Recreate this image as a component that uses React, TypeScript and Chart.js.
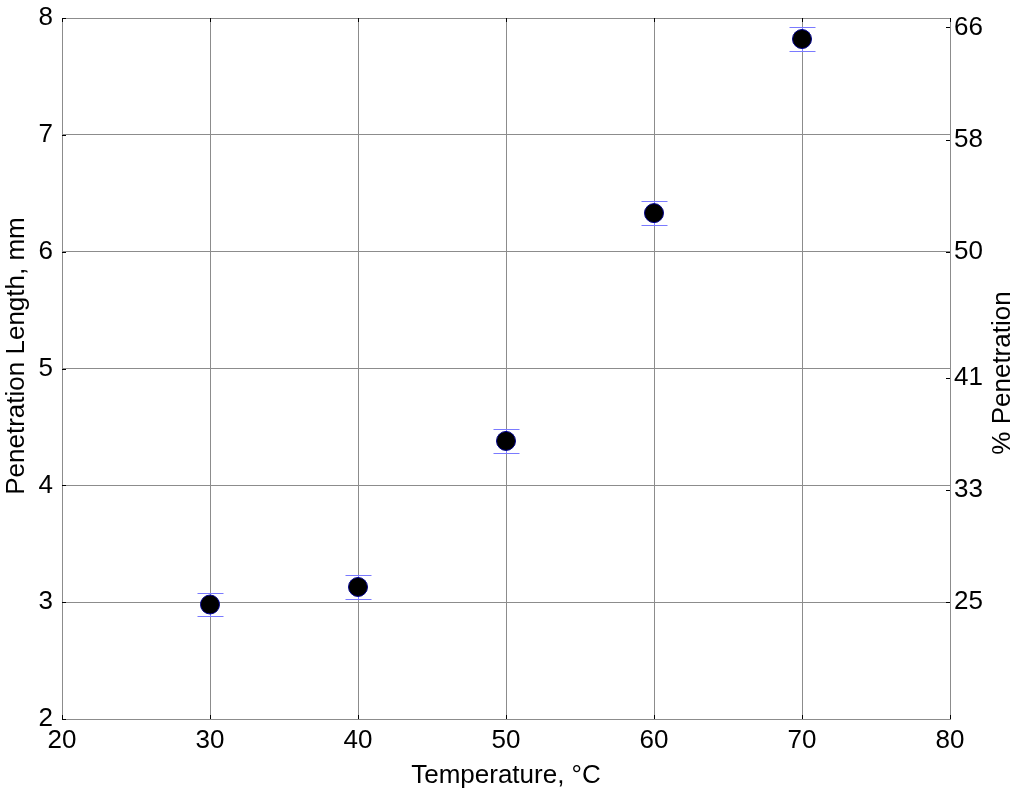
import React, { useEffect, useRef } from "react";
import { Chart, registerables } from "chart.js";

Chart.register(...registerables);

// ---- data ----
const temperatures = [30, 40, 50, 60, 70];
const penetrationLength = [2.98, 3.13, 4.38, 6.33, 7.82];
const errorHalf = [0.1, 0.1, 0.1, 0.1, 0.1];
const percentTicks = [25, 33, 41, 50, 58, 66];
const xTitle = "Temperature, °C";
const yTitle = "Penetration Length, mm";
const y2Title = "% Penetration";
const mmToPercent = 25 / 3;
const xMin = 20, xMax = 80, xStep = 10;
const yMin = 2, yMax = 8, yStep = 1;

const FONT = "'Liberation Sans', Arial, Helvetica, sans-serif";
const GRID = "#8c8c8c";

const extrasPlugin = {
  id: "extras",
  beforeDatasetsDraw(chart: any) {
    const { ctx } = chart;
    const xs = chart.scales.x;
    const ys = chart.scales.y;
    ctx.save();
    ctx.strokeStyle = "#7a7aff";
    ctx.lineWidth = 1;
    temperatures.forEach((t, i) => {
      const px = Math.round(xs.getPixelForValue(t)) + 0.5;
      const hi = Math.round(ys.getPixelForValue(penetrationLength[i] + errorHalf[i])) + 0.5;
      const lo = Math.round(ys.getPixelForValue(penetrationLength[i] - errorHalf[i])) + 0.5;
      ctx.beginPath();
      ctx.moveTo(px, hi);
      ctx.lineTo(px, lo);
      ctx.moveTo(px - 13, hi);
      ctx.lineTo(px + 13, hi);
      ctx.moveTo(px - 13, lo);
      ctx.lineTo(px + 13, lo);
      ctx.stroke();
    });
    ctx.restore();
  },
  afterDraw(chart: any) {
    const { ctx, chartArea } = chart;
    const xs = chart.scales.x;
    const ys = chart.scales.y;
    const y2 = chart.scales.y2;
    ctx.save();
    ctx.strokeStyle = "#000";
    ctx.lineWidth = 1;
    ctx.beginPath();
    for (let v = xMin; v <= xMax; v += xStep) {
      const px = Math.round(xs.getPixelForValue(v)) + 0.5;
      ctx.moveTo(px, chartArea.top);
      ctx.lineTo(px, chartArea.top + 4);
      ctx.moveTo(px, chartArea.bottom);
      ctx.lineTo(px, chartArea.bottom - 4);
    }
    for (let v = yMin; v <= yMax; v += yStep) {
      const py = Math.round(ys.getPixelForValue(v)) + 0.5;
      ctx.moveTo(chartArea.left, py);
      ctx.lineTo(chartArea.left + 4, py);
    }
    percentTicks.forEach((p) => {
      const py = Math.round(y2.getPixelForValue(p)) + 0.5;
      ctx.moveTo(chartArea.right, py);
      ctx.lineTo(chartArea.right - 4, py);
    });
    ctx.stroke();

    // vertical axis titles, reading bottom-to-top
    ctx.fillStyle = "#000";
    ctx.font = `26px ${FONT}`;
    ctx.textAlign = "center";
    ctx.textBaseline = "middle";
    ctx.save();
    ctx.translate(17, 356);
    ctx.rotate(-Math.PI / 2);
    ctx.fillText(yTitle, 0, 0);
    ctx.restore();
    ctx.save();
    ctx.translate(1003, 373);
    ctx.rotate(-Math.PI / 2);
    ctx.fillText(y2Title, 0, 0);
    ctx.restore();
    ctx.restore();
  },
};

export default function App() {
  const ref = useRef<HTMLCanvasElement | null>(null);

  useEffect(() => {
    document.body.style.margin = "0";
    if (!ref.current) return;
    const chart = new Chart(ref.current, {
      type: "scatter",
      data: {
        datasets: [
          {
            label: "Penetration",
            data: temperatures.map((t, i) => ({ x: t, y: penetrationLength[i] })),
            backgroundColor: "#000",
            borderColor: "#00008b",
            borderWidth: 1,
            pointRadius: 9.5,
            pointHoverRadius: 9.5,
          },
        ],
      },
      options: {
        responsive: false,
        animation: false,
        events: [],
        layout: { padding: { top: 18, left: 0, right: 0, bottom: 0 } },
        plugins: { legend: { display: false }, tooltip: { enabled: false } },
        scales: {
          x: {
            type: "linear",
            position: "bottom",
            min: xMin,
            max: xMax,
            ticks: { stepSize: xStep, color: "#000", font: { family: FONT, size: 26 }, padding: 6 },
            grid: { color: GRID, drawTicks: false },
            border: { color: GRID },
            title: {
              display: true,
              text: xTitle,
              color: "#000",
              font: { family: FONT, size: 26, lineHeight: 1.1 },
              padding: { top: 0, bottom: 7 },
            },
            afterFit: (s: any) => {
              s.height = 78;
              s.paddingLeft = 0;
              s.paddingRight = 0;
            },
          },
          y: {
            type: "linear",
            position: "left",
            min: yMin,
            max: yMax,
            ticks: { stepSize: yStep, color: "#000", font: { family: FONT, size: 26 }, padding: 9 },
            grid: { color: GRID, drawTicks: false },
            border: { color: GRID },
            afterFit: (s: any) => {
              s.width = 62;
              s.paddingTop = 0;
              s.paddingBottom = 0;
            },
          },
          y2: {
            type: "linear",
            position: "right",
            min: yMin * mmToPercent,
            max: yMax * mmToPercent,
            afterBuildTicks: (s: any) => {
              s.ticks = percentTicks.map((v) => ({ value: v }));
            },
            ticks: { color: "#000", font: { family: FONT, size: 26 }, padding: 4 },
            grid: { drawOnChartArea: false, drawTicks: false },
            border: { color: GRID },
            afterFit: (s: any) => {
              s.width = 74;
              s.paddingTop = 0;
              s.paddingBottom = 0;
            },
          },
        },
      },
      plugins: [extrasPlugin],
    } as any);
    return () => chart.destroy();
  }, []);

  return (
    <div style={{ width: 1024, height: 797 }}>
      <canvas ref={ref} width={1024} height={797} style={{ display: "block" }} />
    </div>
  );
}
